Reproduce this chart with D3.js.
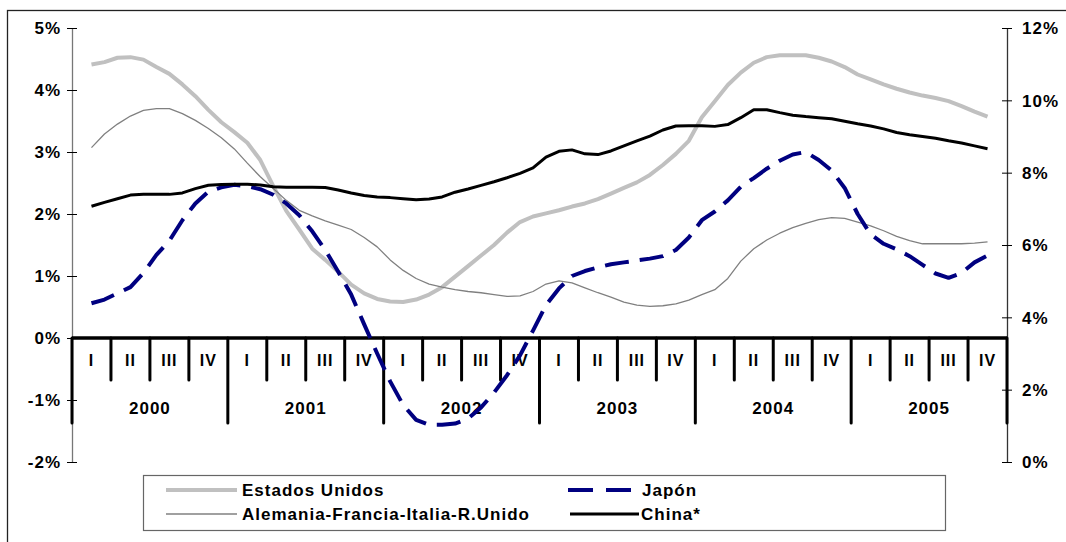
<!DOCTYPE html>
<html lang="es">
<head>
<meta charset="UTF-8">
<title>Crecimiento</title>
<script src="https://d3js.org/d3.v7.min.js"></script>
<style>
  body { margin: 0; background: #fff; }
  text { font-family: "Liberation Sans", Arial, sans-serif; font-weight: bold; fill: #000; }
</style>
</head>
<body>
<div id="chart"></div>
<script>
// ---- data (monthly, Feb 2000 .. Nov 2005) ----
const years = ['2000', '2001', '2002', '2003', '2004', '2005']
const quarters = ['I', 'II', 'III', 'IV']
const leftTicks = [-2, -1, 0, 1, 2, 3, 4, 5]
const rightTicks = [0, 2, 4, 6, 8, 10, 12]

const usa = [4.41, 4.45, 4.52, 4.53, 4.49, 4.37, 4.26, 4.09, 3.90, 3.68, 3.48, 3.32,
  3.15, 2.87, 2.45, 2.05, 1.75, 1.44, 1.26, 1.07, 0.86, 0.72, 0.63, 0.59,
  0.58, 0.62, 0.70, 0.82, 0.99, 1.16, 1.33, 1.50, 1.70, 1.87, 1.96, 2.01,
  2.06, 2.12, 2.17, 2.24, 2.33, 2.42, 2.51, 2.63, 2.79, 2.97, 3.18, 3.56,
  3.82, 4.08, 4.28, 4.44, 4.53, 4.56, 4.56, 4.56, 4.52, 4.46, 4.37, 4.25,
  4.17, 4.09, 4.02, 3.96, 3.91, 3.87, 3.82, 3.74, 3.65, 3.57]

const europa = [3.07, 3.29, 3.45, 3.58, 3.67, 3.70, 3.70, 3.62, 3.51, 3.38, 3.23, 3.05,
  2.82, 2.60, 2.41, 2.22, 2.06, 1.97, 1.89, 1.82, 1.75, 1.62, 1.47, 1.26,
  1.09, 0.96, 0.87, 0.82, 0.78, 0.75, 0.73, 0.70, 0.67, 0.68, 0.75, 0.87,
  0.92, 0.89, 0.81, 0.73, 0.66, 0.58, 0.53, 0.51, 0.52, 0.55, 0.61, 0.70,
  0.78, 0.96, 1.24, 1.44, 1.58, 1.69, 1.78, 1.85, 1.91, 1.94, 1.93, 1.87,
  1.81, 1.73, 1.64, 1.57, 1.52, 1.52, 1.52, 1.52, 1.53, 1.55]

const japon = [0.56, 0.62, 0.72, 0.82, 1.05, 1.34, 1.57, 1.90, 2.17, 2.36, 2.43, 2.47,
  2.45, 2.40, 2.31, 2.17, 1.98, 1.72, 1.42, 1.07, 0.70, 0.22, -0.25, -0.70,
  -1.08, -1.32, -1.40, -1.40, -1.38, -1.30, -1.12, -0.88, -0.60, -0.28, 0.12, 0.53,
  0.80, 1.00, 1.08, 1.14, 1.19, 1.22, 1.25, 1.28, 1.32, 1.42, 1.62, 1.90,
  2.04, 2.22, 2.44, 2.58, 2.73, 2.86, 2.96, 3.00, 2.87, 2.70, 2.42, 2.00,
  1.67, 1.52, 1.43, 1.32, 1.18, 1.04, 0.97, 1.05, 1.22, 1.33]

const china = [7.07, 7.18, 7.28, 7.38, 7.40, 7.40, 7.40, 7.44, 7.56, 7.65, 7.67, 7.68,
  7.68, 7.66, 7.61, 7.60, 7.60, 7.60, 7.59, 7.52, 7.44, 7.37, 7.33, 7.31,
  7.28, 7.25, 7.27, 7.33, 7.46, 7.55, 7.65, 7.75, 7.86, 7.98, 8.13, 8.43,
  8.59, 8.63, 8.52, 8.50, 8.60, 8.74, 8.88, 9.01, 9.18, 9.29, 9.30, 9.30,
  9.28, 9.33, 9.52, 9.74, 9.74, 9.66, 9.59, 9.55, 9.52, 9.49, 9.42, 9.35,
  9.29, 9.21, 9.11, 9.05, 9.00, 8.95, 8.88, 8.82, 8.74, 8.66]

const width = 1066
const height = 542

const svg = d3.select('#chart').append('svg')
    .attr('width', width)
    .attr('height', height)

// outer frame
svg.append('rect')
    .attr('x', 7.5).attr('y', 10.5)
    .attr('width', 1100).attr('height', 600)
    .attr('fill', 'none').attr('stroke', '#222').attr('stroke-width', 1.3)

// scales: x in months from Jan 2000
var x = d3.scaleLinear().domain([0, 72]).range([72, 1007])
var yL = d3.scaleLinear().domain([-2, 5]).range([462, 28])
var yR = d3.scaleLinear().domain([0, 12]).range([462, 28])

// left axis
var axL = svg.append('g').attr('transform', 'translate(72,0)')
    .call(d3.axisLeft(yL).tickValues(leftTicks).tickFormat(d => d + '%').tickSizeInner(5).tickSizeOuter(0).tickPadding(6))
axL.select('.domain').attr('stroke', '#777').attr('stroke-width', 1.3)
axL.selectAll('.tick line').attr('x1', 5).attr('stroke', '#000')
axL.selectAll('.tick text').attr('font-size', 17).style('letter-spacing', '1px')
    .attr('font-family', null).attr('dy', '0.35em')

// right axis
var axR = svg.append('g').attr('transform', 'translate(1007,0)')
    .call(d3.axisRight(yR).tickValues(rightTicks).tickFormat(d => d + '%').tickSizeInner(5).tickSizeOuter(0).tickPadding(10))
axR.select('.domain').attr('stroke', '#333').attr('stroke-width', 1.3)
axR.selectAll('.tick line').attr('x1', -5).attr('stroke', '#000')
axR.selectAll('.tick text').attr('font-size', 17).style('letter-spacing', '1px')
    .attr('font-family', null).attr('dy', '0.35em')

// category axis on the zero line
var y0 = yL(0)
var sep = svg.append('g')
years.forEach(function(yr, yi) {
    quarters.forEach(function(q, qi) {
        var m = yi * 12 + qi * 3
        sep.append('text')
            .attr('x', x(m + 1.5)).attr('y', y0 + 28)
            .attr('text-anchor', 'middle')
            .attr('font-size', 16).style('letter-spacing', '1px')
            .text(q)
        if (qi > 0) {
            sep.append('line')
                .attr('x1', x(m)).attr('x2', x(m))
                .attr('y1', y0).attr('y2', y0 + 42)
                .attr('stroke', '#000').attr('stroke-width', 3).attr('stroke-linecap', 'round')
        }
    })
    sep.append('text')
        .attr('x', x(yi * 12 + 6)).attr('y', y0 + 76)
        .attr('text-anchor', 'middle')
        .attr('font-size', 17).style('letter-spacing', '1px')
        .text(yr)
})
d3.range(years.length + 1).forEach(function(i) {
    sep.append('line')
        .attr('x1', x(i * 12)).attr('x2', x(i * 12))
        .attr('y1', y0).attr('y2', y0 + 85)
        .attr('stroke', '#000').attr('stroke-width', 3).attr('stroke-linecap', 'round')
})
sep.append('line')
    .attr('x1', x(0)).attr('x2', x(72))
    .attr('y1', y0).attr('y2', y0)
    .attr('stroke', '#000').attr('stroke-width', 3.5)

// series
var series = [
    {name: 'Estados Unidos', data: usa, scale: yL, color: '#c0c0c0', w: 4, dash: null},
    {name: 'Alemania-Francia-Italia-R.Unido', data: europa, scale: yL, color: '#808080', w: 1.3, dash: null},
    {name: 'Japón', data: japon, scale: yL, color: '#000080', w: 4, dash: '24,11'},
    {name: 'China*', data: china, scale: yR, color: '#000', w: 3, dash: null}
]

series.forEach(function(s) {
    var line = d3.line()
        .x((d, i) => x(i + 1.5))
        .y(d => s.scale(d))
    svg.append('path')
        .datum(s.data)
        .attr('d', line)
        .attr('fill', 'none')
        .attr('stroke', s.color)
        .attr('stroke-width', s.w)
        .attr('stroke-linejoin', 'round')
        .attr('stroke-dasharray', s.dash)
})

// legend
var leg = svg.append('g')
leg.append('rect')
    .attr('x', 143.5).attr('y', 475.5)
    .attr('width', 802).attr('height', 55)
    .attr('fill', '#fff').attr('stroke', '#666').attr('stroke-width', 1.2)

var legPos = [
    {s: series[0], x1: 166, x2: 237, tx: 242, y: 490},
    {s: series[1], x1: 166, x2: 237, tx: 242, y: 514},
    {s: series[2], x1: 568, x2: 631, tx: 642, y: 490},
    {s: series[3], x1: 570, x2: 639, tx: 641, y: 514}
]
legPos.forEach(function(p) {
    leg.append('line')
        .attr('x1', p.x1).attr('x2', p.x2)
        .attr('y1', p.y).attr('y2', p.y)
        .attr('stroke', p.s.color)
        .attr('stroke-width', p.s.w)
        .attr('stroke-dasharray', p.s.dash ? '25,13' : null)
    leg.append('text')
        .attr('x', p.tx)
        .attr('y', p.y + 6)
        .attr('font-size', 17).style('letter-spacing', '1px')
        .text(p.s.name)
})
</script>
</body>
</html>
